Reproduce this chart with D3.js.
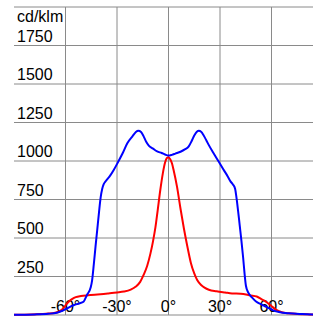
<!DOCTYPE html>
<html>
<head>
<meta charset="utf-8">
<script src="https://cdn.jsdelivr.net/npm/d3@7"></script>
<style>
  body { margin: 0; background: #fff; }
  svg { display: block; font-family: "Liberation Sans", Arial, sans-serif; }
</style>
</head>
<body>
<svg id="chart"></svg>
<script>
// luminous intensity curves (cd/klm) against angle
const yTicks = [250, 500, 750, 1000, 1250, 1500, 1750];
const xTicks = [-60, -30, 0, 30, 60];
const unitLabel = "cd/klm";

const blueAngles = [-90, -78, -70, -65, -61, -59, -55, -52, -49.5, -47.5, -45.3, -44.5, -43.5, -42.5, -41.5, -40.5, -39.5, -38.6, -37.8, -36.5,
    -34, -32, -29.3, -26.5, -24, -21, -19, -17.6, -16, -14.5, -13, -11.5, -9, -6.6, -4, -2, 0,
    2, 4, 7, 9.5, 11.8, 13.5, 15, 16.5, 17.7, 19, 20.5, 22, 23.5, 26, 29.3, 32, 34.5, 36.1,
    37.5, 38.8, 39.5, 40.5, 41.5, 42.5, 43.5, 44.3, 45.1, 46.5, 49, 51, 53.5, 56, 58.4, 61, 64.3, 70, 78, 90];
const blueValues = [2, 4, 8, 15, 32, 43, 65, 75, 86, 130, 180, 225, 330, 445, 555, 665, 765, 820, 848, 870,
    905, 940, 995, 1055, 1115, 1160, 1188, 1196, 1188, 1160, 1125, 1100, 1080, 1062, 1052, 1042, 1035,
    1040, 1048, 1060, 1075, 1095, 1130, 1165, 1190, 1196, 1190, 1165, 1135, 1103, 1055, 995, 945, 900, 868,
    848, 820, 770, 680, 580, 480, 370, 270, 190, 145, 110, 88, 72, 58, 45, 30, 20, 11, 6, 3];

const redAngles = [-90, -80, -74, -70, -66, -64, -62, -60, -58, -56, -54, -51, -47, -43, -39.6, -35, -30, -26, -22, -19, -16.5,
    -14.5, -12.4, -10.5, -9, -7.6, -6.3, -4.8, -3.3, -2, -1, 0, 1, 2, 3, 5, 7, 9, 10.9, 13, 15, 16.7,
    19, 21, 23.5, 28, 33, 37, 42, 47.8, 51.4, 54.6, 56.3, 58.5, 60.3, 62, 64, 66, 70, 75, 82, 90];
const redValues = [1, 3, 6, 9, 15, 21, 35, 62, 88, 105, 116, 123, 128, 132, 135, 140, 146, 152, 165, 185, 215,
    260, 320, 400, 480, 570, 680, 810, 920, 990, 1018, 1025, 1012, 985, 940, 830, 690, 560, 450, 340, 270, 227,
    195, 178, 164, 154, 146, 140, 138, 127, 120, 100, 90, 72, 55, 40, 26, 18, 11, 7, 4, 2];

const width = 313, height = 316;
const svg = d3.select("#chart").attr("width", width).attr("height", height);

const x = d3.scaleLinear().domain([-90, 90]).range([14, 323]);
const y = d3.scaleLinear().domain([0, 2000]).range([315, 7]);

const grid = svg.append("g").attr("stroke", "#8a8a8a").attr("stroke-width", 1);

grid.selectAll(".h-line")
    .data(d3.range(0, 2001, 250))
    .enter()
    .append("line")
    .attr("class", "h-line")
    .attr("x1", x(-90)).attr("x2", width)
    .attr("y1", d => y(d)).attr("y2", d => y(d));

grid.selectAll(".v-line")
    .data(xTicks)
    .enter()
    .append("line")
    .attr("class", "v-line")
    .attr("x1", d => x(d)).attr("x2", d => x(d))
    .attr("y1", y(2000)).attr("y2", y(0));

svg.selectAll(".y-label")
    .data(yTicks)
    .enter()
    .append("text")
    .attr("class", "y-label")
    .attr("x", 17)
    .attr("y", d => y(d) - 4)
    .style("font-size", "16px")
    .text(d => d);

svg.append("text")
    .attr("x", 17)
    .attr("y", y(2000) + 15)
    .style("font-size", "16px")
    .text(unitLabel);

svg.selectAll(".x-label")
    .data(xTicks)
    .enter()
    .append("text")
    .attr("class", "x-label")
    .attr("x", d => x(d))
    .attr("y", y(0) - 3)
    .attr("text-anchor", "middle")
    .style("font-size", "16px")
    .text(d => d + "°");

const line = d3.line()
    .x(d => x(d[0]))
    .y(d => y(d[1]))
    .curve(d3.curveMonotoneX);

svg.append("path")
    .datum(redAngles.map((a, i) => [a, redValues[i]]))
    .attr("fill", "none")
    .attr("stroke", "#ff0000")
    .attr("stroke-width", 2)
    .attr("d", line);

svg.append("path")
    .datum(blueAngles.map((a, i) => [a, blueValues[i]]))
    .attr("fill", "none")
    .attr("stroke", "#0000ff")
    .attr("stroke-width", 2)
    .attr("d", line);
</script>
</body>
</html>
